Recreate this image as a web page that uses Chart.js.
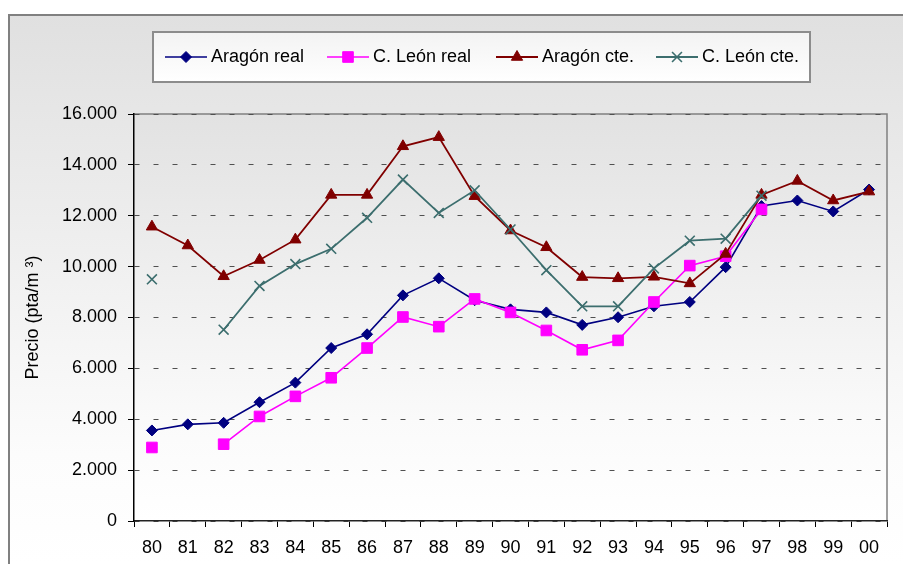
<!DOCTYPE html>
<html>
<head>
<meta charset="utf-8">
<script src="https://cdn.jsdelivr.net/npm/chart.js@4.4.1/dist/chart.umd.min.js"></script>
<style>
  html, body { margin: 0; padding: 0; background: #fff; }
  #myChart { display: block; }
</style>
</head>
<body>
<canvas id="myChart" width="903" height="564"></canvas>
<script>
// años 1980-2000
const years = ['80','81','82','83','84','85','86','87','88','89','90','91','92','93','94','95','96','97','98','99','00'];
const yTicks = [0, 2000, 4000, 6000, 8000, 10000, 12000, 14000, 16000];

const aragonReal = [3560, 3800, 3860, 4670, 5440, 6800, 7340, 8870, 9540, 8680, 8320, 8200, 7710, 8010, 8440, 8610, 9980, 12380, 12600, 12170, 13030];
const leonReal   = [2890, null, 3020, 4110, 4900, 5630, 6800, 8020, 7640, 8730, 8200, 7490, 6730, 7100, 8610, 10040, 10410, 12250, null, null, null];
const aragonCte  = [11570, 10830, 9620, 10260, 11060, 12820, 12820, 14730, 15090, 12770, 11420, 10760, 9590, 9540, 9600, 9340, 10500, 12820, 13370, 12600, 12950];
const leonCte    = [9500, null, 7520, 9240, 10100, 10700, 11920, 13420, 12110, 13000, 11460, 9860, 8440, 8440, 9930, 11020, 11100, 12790, null, null, null];

const seriesNames = ['Aragón real', 'C. León real', 'Aragón cte.', 'C. León cte.'];

Chart.defaults.font.family = '"Liberation Sans", Arial, sans-serif';
Chart.defaults.font.size = 18;
Chart.defaults.color = '#000';

function fmt(v) {
  return String(v).replace(/\B(?=(\d{3})+(?!\d))/g, '.');
}

// fondo degradado, marco y caja de leyenda
const backdrop = {
  id: 'backdrop',
  beforeDraw(chart) {
    const ctx = chart.ctx;
    const a = chart.chartArea;
    ctx.save();
    ctx.fillStyle = '#fff';
    ctx.fillRect(0, 0, chart.width, chart.height);
    let g = ctx.createLinearGradient(0, 14, 0, chart.height);
    g.addColorStop(0, '#e0e0e0');
    g.addColorStop(0.8, '#fcfcfc');
    g.addColorStop(1, '#ffffff');
    ctx.fillStyle = g;
    ctx.fillRect(8, 14, chart.width - 8, chart.height - 14);
    ctx.strokeStyle = '#808080';
    ctx.lineWidth = 2;
    ctx.beginPath();
    ctx.moveTo(9, chart.height);
    ctx.lineTo(9, 15);
    ctx.lineTo(chart.width, 15);
    ctx.stroke();

    g = ctx.createLinearGradient(0, a.top, 0, a.bottom);
    g.addColorStop(0, '#e2e2e2');
    g.addColorStop(0.75, '#fafafa');
    g.addColorStop(1, '#ffffff');
    ctx.fillStyle = g;
    ctx.fillRect(a.left, a.top, a.right - a.left, a.bottom - a.top);
    ctx.strokeStyle = '#808080';
    ctx.lineWidth = 1.5;
    ctx.beginPath();
    ctx.moveTo(a.left, a.top);
    ctx.lineTo(a.right, a.top);
    ctx.lineTo(a.right, a.bottom);
    ctx.stroke();
    ctx.restore();
  },
  afterDraw(chart) {
    const ctx = chart.ctx;
    ctx.save();
    const g = ctx.createLinearGradient(0, 32, 0, 82);
    g.addColorStop(0, '#f3f3f3');
    g.addColorStop(1, '#ffffff');
    ctx.fillStyle = g;
    ctx.fillRect(153, 32, 657, 50);
    ctx.strokeStyle = '#8c8c8c';
    ctx.lineWidth = 2;
    ctx.strokeRect(153, 32, 657, 50);

    const starts = [165, 327, 496, 656];
    const cy = 57;
    chart.data.datasets.forEach((ds, i) => {
      const x0 = starts[i];
      ctx.strokeStyle = ds.borderColor;
      ctx.lineWidth = ds.borderWidth;
      ctx.beginPath();
      ctx.moveTo(x0, cy);
      ctx.lineTo(x0 + 42, cy);
      ctx.stroke();
      ctx.fillStyle = ds.pointBackgroundColor;
      ctx.strokeStyle = ds.pointBorderColor;
      ctx.lineWidth = ds.pointBorderWidth;
      Chart.helpers.drawPoint(ctx, {
        pointStyle: ds.pointStyle, radius: ds.pointRadius, rotation: 0, borderWidth: ds.pointBorderWidth
      }, x0 + 21, cy);
      ctx.fillStyle = '#000';
      ctx.font = '18px "Liberation Sans", Arial, sans-serif';
      ctx.textBaseline = 'middle';
      ctx.textAlign = 'left';
      ctx.fillText(ds.label, x0 + 46, cy);
    });
    ctx.restore();
  }
};

const chart = document.getElementById('myChart');

new Chart(chart, {
  type: 'line',
  data: {
    labels: years,
    datasets: [{
      label: seriesNames[0],
      data: aragonReal,
      borderColor: '#000080',
      borderWidth: 1.6,
      pointStyle: 'rectRot',
      pointRadius: 5.5,
      pointBackgroundColor: '#000080',
      pointBorderColor: '#000080',
      pointBorderWidth: 1,
      order: 4
    }, {
      label: seriesNames[1],
      data: leonReal,
      borderColor: '#ff00ff',
      borderWidth: 1.6,
      pointStyle: 'rect',
      pointRadius: 7.5,
      pointBackgroundColor: '#ff00ff',
      pointBorderColor: '#ff00ff',
      pointBorderWidth: 1,
      order: 3
    }, {
      label: seriesNames[2],
      data: aragonCte,
      borderColor: '#800000',
      borderWidth: 1.8,
      pointStyle: 'triangle',
      pointRadius: 6.5,
      pointBackgroundColor: '#800000',
      pointBorderColor: '#800000',
      pointBorderWidth: 1,
      order: 2
    }, {
      label: seriesNames[3],
      data: leonCte,
      borderColor: '#3c6e6e',
      borderWidth: 1.8,
      pointStyle: 'crossRot',
      pointRadius: 7,
      pointBackgroundColor: '#3c6e6e',
      pointBorderColor: '#3c6e6e',
      pointBorderWidth: 1.6,
      order: 1
    }]
  },
  options: {
    responsive: false,
    animation: false,
    layout: { padding: { left: 14, top: 114, right: 16, bottom: 0 } },
    plugins: {
      legend: { display: false },
      tooltip: { enabled: false }
    },
    elements: { line: { tension: 0 } },
    scales: {
      x: {
        offset: true,
        afterFit: (s) => { s.height = 43; },
        grid: {
          offset: true,
          drawOnChartArea: false,
          tickLength: 6,
          tickColor: '#000',
          tickWidth: 1
        },
        border: { color: '#222', width: 1.5 },
        ticks: { maxRotation: 0, autoSkip: false, padding: 10 }
      },
      y: {
        min: 0,
        max: 16000,
        afterFit: (s) => { s.width = 120; },
        afterBuildTicks: (s) => { s.ticks = yTicks.map(v => ({ value: v })); },
        grid: {
          color: '#505050',
          lineWidth: 1,
          tickBorderDash: [],
          tickColor: '#000',
          tickLength: 6
        },
        border: { color: '#000', width: 1.5, dash: [5, 14] },
        ticks: { padding: 11, callback: (v) => fmt(v) },
        title: {
          display: true,
          text: 'Precio (pta/m ³)',
          padding: { top: 8, bottom: 0 }
        }
      }
    }
  },
  plugins: [backdrop]
});
</script>
</body>
</html>
